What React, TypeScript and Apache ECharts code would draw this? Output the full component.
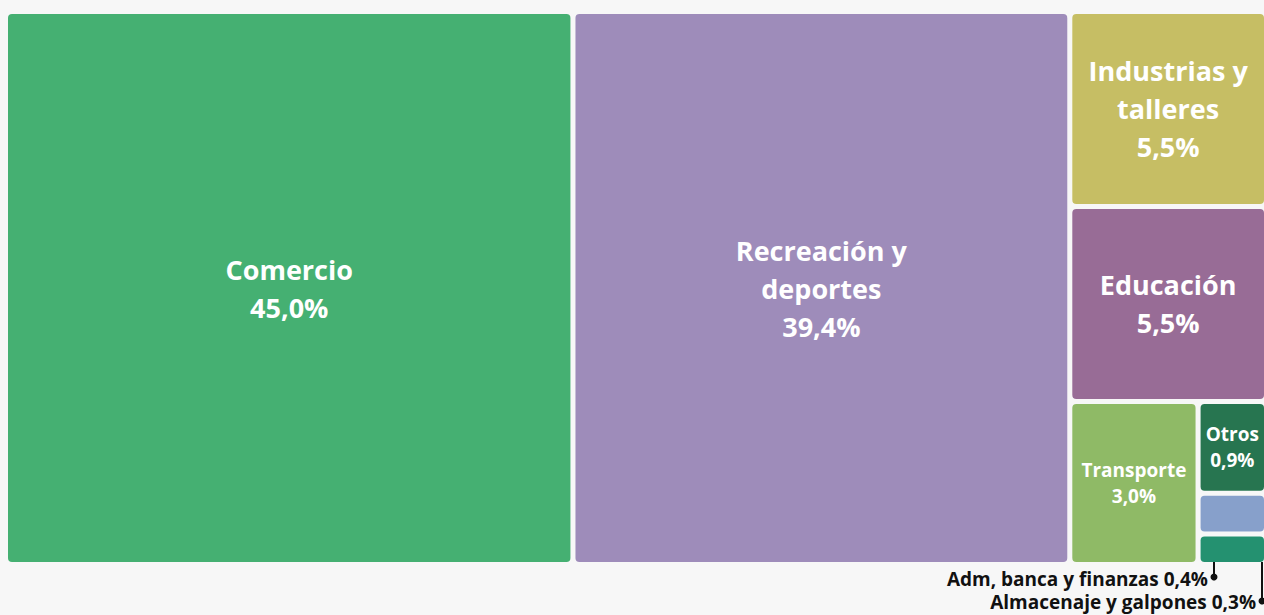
import React, { useEffect, useRef } from "react";
import * as echarts from "echarts";

const categories = [
  "Comercio",
  "Recreación y\ndeportes",
  "Industrias y\ntalleres",
  "Educación",
  "Transporte",
  "Otros",
  "Adm, banca y finanzas",
  "Almacenaje y galpones",
];
const values = [45.0, 39.4, 5.5, 5.5, 3.0, 0.9, 0.4, 0.3];
const colors = ["#45b072", "#9e8cba", "#c6be64", "#986c96", "#8fba66", "#277550", "#87a0cb", "#249170"];
const bigLabel = [true, true, true, true, false, false, false, false];
const showInside = [true, true, true, true, true, true, false, false];

const fmt = (v: number) => v.toFixed(1).replace(".", ",") + "%";

export default function App() {
  const ref = useRef<HTMLDivElement>(null);
  useEffect(() => {
    if (!ref.current) return;
    const chart = echarts.init(ref.current, undefined, { renderer: "svg" });
    const data = categories.map((name, i) => ({
      name,
      value: values[i],
      itemStyle: { color: colors[i] },
      label: {
        show: showInside[i],
        fontSize: bigLabel[i] ? 27 : 19,
        lineHeight: bigLabel[i] ? 38 : 26,
      },
    }));
    const annFont = {
      fontSize: 19,
      fontWeight: "bold" as const,
      fill: "#111",
      fontFamily: "Open Sans",
    };
    chart.setOption({
      animation: false,
      backgroundColor: "#f7f7f7",
      series: [
        {
          type: "treemap",
          left: 8,
          top: 14,
          right: 0,
          bottom: 53,
          roam: false,
          nodeClick: false,
          sort: false,
          squareRatio: 1,
          breadcrumb: { show: false },
          itemStyle: { gapWidth: 5, borderWidth: 0, borderRadius: 4 },
          levels: [
            { itemStyle: { gapWidth: 5, borderWidth: 0, borderColor: "#f7f7f7" } },
            { itemStyle: { borderWidth: 0, borderRadius: 4 } },
          ],
          label: {
            show: true,
            position: "inside",
            align: "center",
            verticalAlign: "middle",
            color: "#ffffff",
            fontWeight: "bold",
            fontFamily: "Open Sans",
            overflow: "none",
            formatter: (p: any) => `${p.name}\n${fmt(p.value)}`,
          },
          upperLabel: { show: false },
          data,
        },
      ],
      graphic: [
        { type: "line", shape: { x1: 1214, y1: 529, x2: 1214, y2: 534 }, style: { stroke: "#111", lineWidth: 2 } },
        { type: "line", shape: { x1: 1214, y1: 562, x2: 1214, y2: 577 }, style: { stroke: "#111", lineWidth: 2 } },
        { type: "circle", shape: { cx: 1214, cy: 577, r: 3.5 }, style: { fill: "#111" } },
        {
          type: "text",
          x: 1208,
          y: 579,
          style: { ...annFont, text: `${categories[6]} ${fmt(values[6])}`, align: "right", verticalAlign: "middle" },
        },
        { type: "line", shape: { x1: 1262, y1: 562, x2: 1262, y2: 601 }, style: { stroke: "#111", lineWidth: 2 } },
        { type: "circle", shape: { cx: 1262, cy: 601, r: 3.5 }, style: { fill: "#111" } },
        {
          type: "text",
          x: 1256,
          y: 602,
          style: { ...annFont, text: `${categories[7]} ${fmt(values[7])}`, align: "right", verticalAlign: "middle" },
        },
      ],
    });
    return () => chart.dispose();
  }, []);
  return (
    <div
      ref={ref}
      style={{ position: "absolute", left: 0, top: 0, width: 1264, height: 615 }}
    />
  );
}
